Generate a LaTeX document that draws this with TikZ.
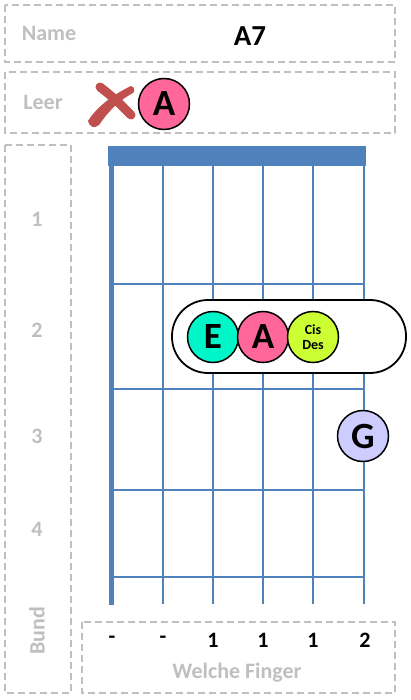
\documentclass[tikz,border=0pt]{standalone}
\usepackage{fontspec}
\setmainfont{Carlito}
\definecolor{gridblue}{HTML}{4F81BD}
\definecolor{lblgray}{HTML}{BFBFBF}
\definecolor{xred}{HTML}{C0504D}
\definecolor{noteE}{HTML}{00F5C8}
\definecolor{noteA}{HTML}{FF6699}
\definecolor{noteC}{HTML}{CCFF33}
\definecolor{noteG}{HTML}{CCCCFF}
\tikzset{
  dbox/.style={draw=lblgray, line width=1.5pt, dash pattern=on 7pt off 4pt},
  graylbl/.style={text=lblgray, font=\fontsize{22}{25}\selectfont\bfseries, inner sep=0pt},
  blacklbl/.style={text=black, font=\fontsize{22}{25}\selectfont\bfseries, inner sep=0pt},
  note/.style={circle, draw=black, line width=1.5pt, minimum size=51pt, inner sep=0pt,
    font=\fontsize{37}{40}\selectfont\bfseries},
  gstring/.style={draw=gridblue, line width=2pt},
}
\begin{document}
\begin{tikzpicture}[x=1pt,y=-1pt]
\useasboundingbox (0,0) rectangle (410,700);
% dashed boxes
\draw[dbox] (5,5) rectangle (395,62);
\draw[dbox] (5,72) rectangle (395,133);
\draw[dbox] (5,145) rectangle (71,693);
\draw[dbox] (82,622) rectangle (395,693);
% header labels
\node[graylbl] (name) at (49,33) {Name};
\node[blacklbl, font=\fontsize{29}{32}\selectfont\bfseries] (chord) at (250,36) {A7};
\node[graylbl] (leer) at (43,102) {Leer};
% red cross
\draw[xred, line width=9pt, line cap=round] (100,87) .. controls (115,99) .. (131,115);
\fill[xred] (88,121) .. controls (96,108) and (112,95) .. (131,86)
  .. controls (135,87) and (135,91) .. (133,93)
  .. controls (118,101) and (108,112) .. (99,125)
  .. controls (95,129) and (89,127) .. (88,121) -- cycle;
\node[note, fill=noteA] (openA) at (164,104) {A};
% fretboard
\fill[gridblue] (108,146) rectangle (366,166);
\foreach \x in {163,213,263,313,364} \draw[gstring] (\x,166) -- (\x,604);
\draw[gridblue, line width=5pt] (111.5,146) -- (111.5,605);
\foreach \y in {284,389,490,577} \draw[gstring] (112,\y) -- (364,\y);
% fret numbers
\node[graylbl] (f1) at (37,219) {1};
\node[graylbl] (f2) at (37,330) {2};
\node[graylbl] (f3) at (37,436) {3};
\node[graylbl] (f4) at (37,529) {4};
\node[graylbl, rotate=90] (bund) at (37,631) {Bund};
% barre
\node[draw=black, line width=1.8pt, fill=white, rounded corners=36pt, minimum width=234pt, minimum height=73pt] (barre) at (289,336.5) {};
\node[note, fill=noteE] (nE) at (213,337) {E};
\node[note, fill=noteA] (nA) at (263,337) {A};
\node[note, fill=noteC, align=center, font=\fontsize{14}{15}\selectfont\bfseries] (nC) at (313,337) {Cis\\Des};
\node[note, fill=noteG] (nG) at (363,436) {G};
% finger numbers
\node[blacklbl] (s1) at (112,640) {-};
\node[blacklbl] (s2) at (163,640) {-};
\node[blacklbl] (s3) at (213,640) {1};
\node[blacklbl] (s4) at (263,640) {1};
\node[blacklbl] (s5) at (313,640) {1};
\node[blacklbl] (s6) at (365,640) {2};
\node[graylbl] (finger) at (237,673) {Welche Finger};
\end{tikzpicture}
\end{document}
